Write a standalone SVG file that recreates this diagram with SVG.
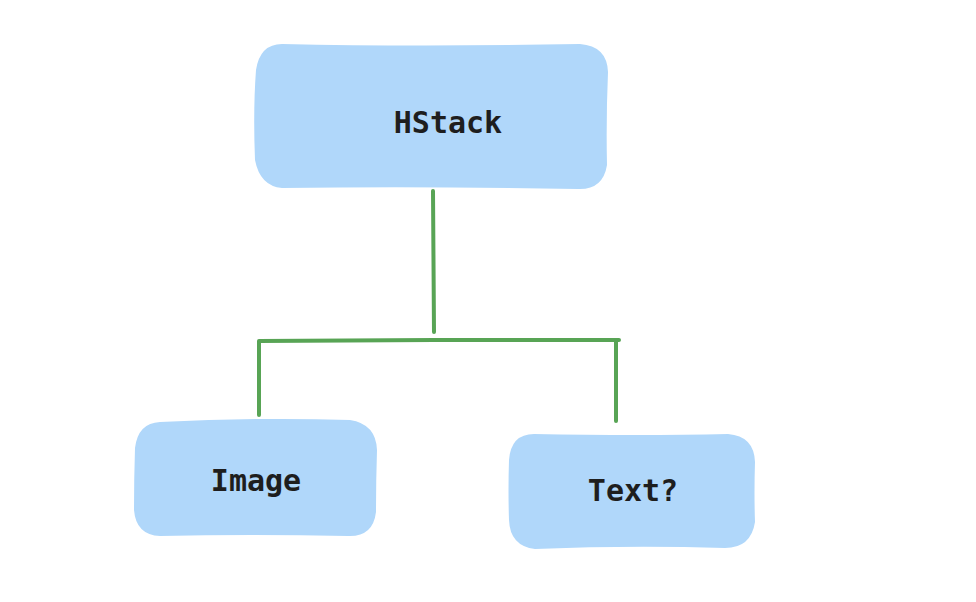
<svg xmlns="http://www.w3.org/2000/svg" width="976" height="602" viewBox="0 0 976 602">
<style>
.box{fill:#b0d7fa;stroke:none}
.lbl{font-family:"DejaVu Sans Mono","Liberation Mono",monospace;font-size:30px;font-weight:bold;fill:#1e1e1e;text-anchor:middle}
.conn{fill:none;stroke:#58a455;stroke-width:4;stroke-linecap:round;stroke-linejoin:round}
</style>
<rect width="976" height="602" fill="#ffffff"/>
<g id="node-hstack">
<path class="box" d="M282 44 Q420 47 580 44 Q607 46 608 72 Q606 120 607 165 Q603 190 578 189 Q420 186 282 188 Q260 186 255 160 Q253 110 256 70 Q260 44 282 44 Z"/>
<text class="lbl" x="448" y="133">HStack</text>
</g>
<g id="node-image">
<path class="box" d="M160 422 Q260 417 350 420 Q376 424 377 450 Q376 480 376 512 Q373 537 348 536 Q250 534 160 536 Q136 535 134 510 Q134 478 135 448 Q138 423 160 422 Z"/>
<text class="lbl" x="256" y="491">Image</text>
</g>
<g id="node-text">
<path class="box" d="M534 434 Q640 436 728 434 Q754 436 755 462 Q754 492 755 522 Q751 548 725 548 Q630 545 535 549 Q510 546 509 520 Q508 490 509 460 Q511 434 534 434 Z"/>
<text class="lbl" x="633" y="501">Text?</text>
</g>
<g id="connectors">
<path class="conn" d="M433 191 L434 332"/>
<path class="conn" d="M259 415 L259 341 L434 340 L619 340"/>
<path class="conn" d="M616 341 L616 421"/>
</g>
</svg>
